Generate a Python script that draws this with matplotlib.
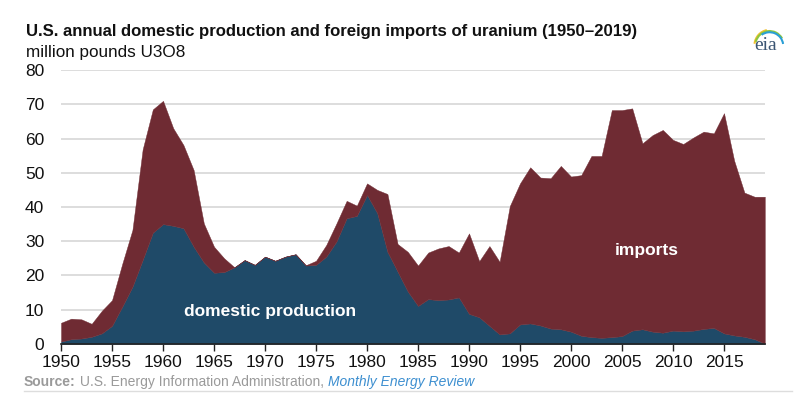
import matplotlib
matplotlib.use("Agg")
import matplotlib.pyplot as plt
from matplotlib.patches import Arc
from matplotlib.lines import Line2D

# Données (millions de livres U3O8)
years = list(range(1950, 2020))
domestic = [0.7, 1.4, 1.6, 2.1, 3.1, 5.3, 10.9, 16.7, 24.5, 32.5,
            35.0, 34.5, 33.8, 28.4, 23.8, 20.8, 21.0, 22.4, 24.5, 23.1,
            25.5, 24.3, 25.5, 26.2, 22.9, 23.1, 25.5, 29.9, 36.7, 37.4,
            43.5, 38.2, 26.9, 21.1, 15.3, 11.1, 13.1, 12.8, 13.0, 13.6,
            8.8, 7.8, 5.3, 2.8, 3.1, 5.7, 6.0, 5.4, 4.5, 4.3,
            3.6, 2.4, 2.0, 1.8, 2.0, 2.3, 3.9, 4.3, 3.6, 3.3,
            3.9, 3.7, 3.9, 4.4, 4.7, 3.1, 2.5, 2.1, 1.4, 0.1]
imports = [5.5, 6.0, 5.6, 3.8, 6.6, 7.5, 12.5, 16.6, 32.3, 36.0,
           36.0, 28.5, 24.3, 22.4, 11.4, 7.6, 4.0, 0.0, 0.0, 0.0,
           0.0, 0.0, 0.0, 0.0, 0.1, 1.2, 3.4, 5.3, 5.1, 3.0,
           3.4, 6.8, 16.9, 8.1, 11.6, 11.8, 13.6, 15.1, 15.6, 13.1,
           23.5, 16.4, 23.3, 21.2, 37.2, 41.2, 45.6, 43.2, 43.9, 47.7,
           45.3, 46.9, 52.9, 53.1, 66.3, 66.0, 64.9, 54.3, 57.4, 59.2,
           55.7, 54.7, 56.4, 57.6, 56.8, 64.3, 51.0, 42.1, 41.6, 42.9]
xticks = list(range(1950, 2016, 5))
yticks = list(range(0, 81, 10))

blue = "#1f4a68"
maroon = "#6f2b33"

plt.rcParams["font.family"] = ["Liberation Sans", "DejaVu Sans"]

fig = plt.figure(figsize=(8, 3.98), dpi=100)
ax = fig.add_axes([0.0763, 0.1357, 0.8797, 0.6884])

ax.stackplot(years, domestic, imports, colors=[blue, maroon],
             linewidth=0.3, edgecolor="face")

ax.set_xlim(1950, 2019)
ax.set_ylim(0, 80)
ax.set_xticks(xticks)
ax.set_yticks(yticks)
ax.tick_params(axis="y", length=0, pad=12, labelsize=12.5, labelcolor="#111111")
ax.tick_params(axis="x", length=5, width=1, color="#222222", pad=3,
               labelsize=12.5, labelcolor="#111111")
ax.grid(axis="y", color="#dddddd", linewidth=1.4)
ax.set_axisbelow(True)
for s in ["top", "right", "left"]:
    ax.spines[s].set_visible(False)
ax.spines["bottom"].set_color("#222222")
ax.spines["bottom"].set_linewidth(1.2)

ax.text(1970.5, 9.6, "domestic production", color="white",
        fontsize=12.5, fontweight="bold", ha="center", va="center")
ax.text(2007.4, 27.2, "imports", color="white",
        fontsize=12.5, fontweight="bold", ha="center", va="center")

# Titre
fig.text(0.032, 0.922, "U.S. annual domestic production and foreign imports of uranium (1950–2019)",
         fontsize=12.1, fontweight="bold", color="#111111", va="center")
fig.text(0.032, 0.869, "million pounds U3O8", fontsize=12.3, color="#111111", va="center")

# Source
fig.canvas.draw()
r = fig.canvas.get_renderer()
x0 = 0.03
parts = [("Source:", dict(fontweight="bold", color="#9a9a9a")),
         (" U.S. Energy Information Administration, ", dict(color="#9a9a9a")),
         ("Monthly Energy Review", dict(style="italic", color="#3d8fd0"))]
for txt, kw in parts:
    t = fig.text(x0, 0.04, txt, fontsize=10, va="center", **kw)
    bb = t.get_window_extent(renderer=r)
    x0 += bb.width / fig.bbox.width
fig.add_artist(Line2D([0.03, 0.99], [0.018, 0.018], color="#dddddd", linewidth=1))

# logo eia
fig.text(0.957, 0.885, "eia", fontsize=14, color="#3b5573", ha="center", va="center",
         family=["Liberation Serif", "DejaVu Serif"])
logo = [("#f2c12e", 0.038, 0.080, 95, 165),
        ("#8dc63f", 0.036, 0.074, 50, 150),
        ("#2a9fd6", 0.034, 0.068, 15, 110)]
for c, w, h, t1, t2 in logo:
    fig.add_artist(Arc((0.962, 0.885), w, h, theta1=t1, theta2=t2, color=c,
                       linewidth=1.5, transform=fig.transFigure))

fig.savefig("out.png", dpi=100)
